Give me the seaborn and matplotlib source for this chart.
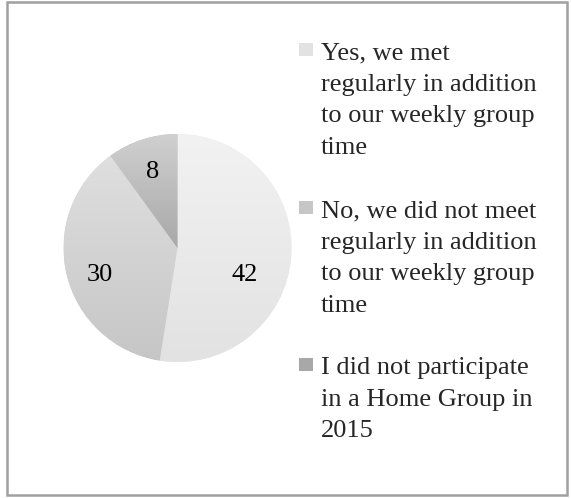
## pie chart of home group meeting answers

import numpy as np
import seaborn as sns
import matplotlib
matplotlib.use("Agg")
import matplotlib.pyplot as plt
from matplotlib.patches import Rectangle
from matplotlib.colors import LinearSegmentedColormap

answers = ["Yes, we met\nregularly in addition\nto our weekly group\ntime",
           "No, we did not meet\nregularly in addition\nto our weekly group\ntime",
           "I did not participate\nin a Home Group in\n2015"]
counts = [42, 30, 8]
colors = ["#ebebeb", "#d3d3d3", "#bababa"]
# gradient ends (top, bottom) for each slice
shade_top = ["#f2f2f2", "#dfdfdf", "#d0d0d0"]
shade_bottom = ["#e2e2e2", "#c6c6c6", "#a8a8a8"]

sns.set_style("white")
plt.rcParams['font.family'] = ['Liberation Serif', 'DejaVu Serif']

W, H = 571, 498
fig = plt.figure(figsize=(W / 100, H / 100), dpi=100)

# frame round the whole chart
fig.patches.append(Rectangle((7 / W, 3 / H), 560 / W, 493 / H, transform=fig.transFigure,
                             fill=False, edgecolor="#a0a0a0", linewidth=1.8))

cx, cy, r = 177.5, 248, 114
ax = fig.add_axes([(cx - r) / W, (H - cy - r) / H, 2 * r / W, 2 * r / H])
wedges, texts, autotexts = ax.pie(counts, colors=colors, startangle=90, counterclock=False,
                                  autopct=lambda p: f"{p * sum(counts) / 100:.0f}",
                                  pctdistance=0.7, radius=1.0,
                                  wedgeprops=dict(linewidth=0, edgecolor="none"),
                                  textprops=dict(fontsize=19, color="black", zorder=5))

# vertical gradient fill in each slice
grad = np.linspace(0, 1, 256).reshape(-1, 1)
for w, c0, c1 in zip(wedges, shade_top, shade_bottom):
    v = w.get_path().vertices
    cmap = LinearSegmentedColormap.from_list("g", [c0, c1])
    im = ax.imshow(grad, cmap=cmap, aspect="auto", origin="upper",
                   extent=[v[:, 0].min(), v[:, 0].max(), v[:, 1].min(), v[:, 1].max()],
                   zorder=2)
    im.set_clip_path(w)

# Excel places the two big labels a bit lower
autotexts[0].set_position((0.59, -0.24))
autotexts[1].set_position((-0.68, -0.24))

ax.set_xlim(-1, 1)
ax.set_ylim(-1, 1)
ax.set_aspect("equal")
ax.axis("off")

# legend, marker at the first line of each entry
tops = [42, 200, 357]
for label, col, top in zip(answers, shade_bottom, tops):
    fig.patches.append(Rectangle((299 / W, (H - top - 14) / H), 14 / W, 13 / H,
                                 transform=fig.transFigure, facecolor=col, edgecolor="none"))
    fig.text(321 / W, (H - top) / H, label, fontsize=19, va="top", ha="left",
             linespacing=1.56)

fig.savefig("out.png", dpi=100)
